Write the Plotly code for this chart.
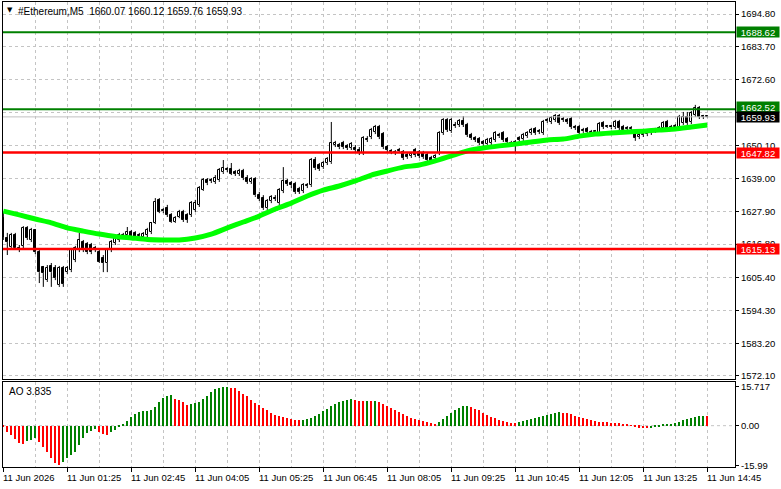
import plotly.graph_objects as go

# ---------------- data ----------------
bars = list(range(1, 178))  # 5-minute bar index from 11 Jun 00:00

opens = [
    1625.6, 1618.9, 1615.8, 1619.9, 1615.5, 1616.2, 1622.3, 1618.2, 1621.6, 1614.1,
    1609.0, 1604.6, 1609.4, 1608.7, 1602.9, 1608.7, 1607.3, 1608.0, 1611.4, 1614.8,
    1617.5, 1616.8, 1616.5, 1615.5, 1614.1, 1612.1, 1610.4, 1614.8, 1617.2, 1618.2,
    1619.5, 1619.9, 1620.9, 1620.6, 1619.9, 1619.2, 1619.9, 1620.9, 1624.0, 1631.8,
    1628.4, 1629.0, 1626.7, 1624.3, 1626.0, 1627.7, 1626.7, 1626.7, 1628.4, 1630.1,
    1635.1, 1638.5, 1638.2, 1637.9, 1638.5, 1641.2, 1642.3, 1642.3, 1641.2, 1640.6,
    1641.6, 1639.2, 1637.9, 1638.9, 1633.4, 1632.4, 1629.0, 1631.4, 1632.4, 1630.7,
    1634.8, 1638.2, 1637.5, 1637.2, 1635.5, 1634.8, 1636.5, 1636.8, 1645.3, 1643.6,
    1642.9, 1644.3, 1644.6, 1650.4, 1650.4, 1651.1, 1650.1, 1649.4, 1649.4, 1648.7,
    1647.7, 1652.1, 1653.1, 1654.8, 1656.5, 1654.1, 1649.7, 1648.4, 1648.0, 1648.7,
    1648.0, 1647.0, 1646.7, 1648.7, 1648.0, 1647.7, 1647.0, 1646.0, 1646.0, 1647.7,
    1654.5, 1658.9, 1655.1, 1657.2, 1657.2, 1658.5, 1657.2, 1653.8, 1652.8, 1652.4,
    1651.4, 1650.7, 1651.1, 1652.1, 1653.8, 1654.5, 1652.4, 1651.1, 1651.1, 1652.8,
    1652.4, 1653.4, 1654.5, 1655.8, 1654.8, 1654.5, 1658.9, 1658.2, 1658.9, 1660.2,
    1659.2, 1658.9, 1659.2, 1656.5, 1656.5, 1655.5, 1655.8, 1654.8, 1654.8, 1654.5,
    1657.9, 1656.5, 1656.5, 1656.5, 1658.2, 1656.5, 1656.2, 1655.8, 1654.1, 1653.1,
    1653.8, 1654.1, 1654.5, 1655.1, 1655.5, 1656.2, 1658.2, 1656.5, 1656.5, 1656.5,
    1657.9, 1659.9, 1658.2, 1660.6, 1662.9, 1660.2, 1660.07,
]
highs = [
    1627.7, 1620.6, 1620.6, 1620.6, 1616.5, 1622.9, 1622.9, 1622.3, 1621.9, 1614.8,
    1609.4, 1609.7, 1610.4, 1609.7, 1609.4, 1609.4, 1609.4, 1615.5, 1616.2, 1620.6,
    1618.2, 1617.5, 1617.2, 1616.2, 1614.8, 1613.1, 1615.5, 1618.2, 1619.5, 1620.6,
    1620.6, 1622.6, 1621.6, 1621.2, 1620.6, 1620.9, 1622.3, 1624.3, 1632.4, 1632.4,
    1629.0, 1630.1, 1627.3, 1626.3, 1628.4, 1628.4, 1627.3, 1631.4, 1631.8, 1636.5,
    1639.2, 1639.2, 1639.2, 1640.2, 1642.6, 1645.3, 1642.9, 1644.3, 1641.9, 1642.3,
    1642.3, 1640.2, 1639.5, 1639.5, 1634.5, 1633.4, 1632.1, 1633.4, 1633.4, 1635.8,
    1642.9, 1638.9, 1638.2, 1637.9, 1636.2, 1637.5, 1637.5, 1646.0, 1646.3, 1644.3,
    1645.0, 1646.3, 1658.2, 1651.8, 1651.1, 1651.8, 1650.7, 1651.4, 1650.4, 1649.7,
    1653.4, 1653.4, 1656.2, 1657.2, 1657.2, 1654.8, 1650.4, 1649.0, 1648.7, 1649.4,
    1648.7, 1647.7, 1648.0, 1649.4, 1648.7, 1648.4, 1647.7, 1646.7, 1647.3, 1655.1,
    1659.5, 1659.5, 1659.5, 1658.2, 1659.2, 1660.2, 1657.9, 1654.5, 1653.4, 1653.1,
    1652.1, 1652.8, 1653.1, 1655.1, 1654.5, 1655.1, 1653.1, 1651.8, 1652.1, 1653.4,
    1654.5, 1655.1, 1656.2, 1656.5, 1655.8, 1658.9, 1659.5, 1660.2, 1660.9, 1660.9,
    1659.9, 1659.5, 1659.9, 1657.2, 1657.2, 1656.2, 1656.5, 1655.5, 1655.5, 1658.2,
    1658.5, 1657.2, 1657.2, 1658.9, 1658.9, 1657.2, 1656.8, 1656.8, 1654.8, 1654.5,
    1654.8, 1655.5, 1655.8, 1656.2, 1656.8, 1658.5, 1658.9, 1657.2, 1657.5, 1660.6,
    1661.6, 1661.6, 1661.9, 1664.0, 1663.6, 1660.6, 1660.12,
]
lows = [
    1618.2, 1613.1, 1615.5, 1615.1, 1614.1, 1614.8, 1618.2, 1617.5, 1613.4, 1603.6,
    1602.3, 1604.0, 1602.3, 1604.6, 1602.3, 1602.3, 1606.7, 1607.3, 1610.7, 1614.1,
    1614.1, 1613.4, 1613.4, 1614.1, 1610.4, 1607.3, 1607.3, 1614.1, 1616.5, 1617.5,
    1618.9, 1619.2, 1618.9, 1618.2, 1618.9, 1618.2, 1619.2, 1620.2, 1623.6, 1627.3,
    1627.3, 1626.0, 1624.0, 1624.0, 1625.6, 1624.3, 1624.0, 1626.0, 1627.7, 1629.4,
    1634.8, 1636.8, 1637.5, 1637.2, 1637.9, 1640.6, 1641.2, 1640.2, 1639.9, 1639.9,
    1638.5, 1637.2, 1637.2, 1632.8, 1631.4, 1628.4, 1628.4, 1630.7, 1631.4, 1630.1,
    1634.1, 1636.5, 1635.8, 1633.8, 1633.8, 1634.1, 1635.8, 1636.2, 1641.9, 1641.6,
    1642.3, 1643.6, 1644.0, 1649.7, 1649.0, 1649.0, 1648.7, 1648.7, 1648.0, 1647.0,
    1647.0, 1651.4, 1652.4, 1654.1, 1652.4, 1649.0, 1648.0, 1647.3, 1647.0, 1647.7,
    1645.3, 1645.7, 1646.0, 1646.3, 1646.0, 1645.7, 1644.6, 1644.0, 1645.3, 1647.0,
    1653.8, 1654.8, 1654.5, 1656.2, 1656.5, 1656.5, 1653.1, 1652.1, 1651.4, 1650.4,
    1650.1, 1650.1, 1650.4, 1651.4, 1652.8, 1651.4, 1650.7, 1650.1, 1648.0, 1651.4,
    1651.8, 1652.8, 1653.8, 1653.8, 1654.1, 1653.8, 1657.9, 1657.5, 1658.2, 1657.2,
    1658.2, 1657.5, 1655.8, 1655.5, 1653.8, 1654.5, 1654.1, 1653.8, 1654.1, 1653.8,
    1655.8, 1656.2, 1655.8, 1655.8, 1655.5, 1654.8, 1655.1, 1655.1, 1651.8, 1652.4,
    1653.1, 1653.4, 1653.8, 1654.5, 1654.8, 1655.5, 1655.5, 1655.5, 1655.8, 1655.8,
    1657.2, 1657.2, 1657.5, 1659.9, 1659.2, 1659.2, 1659.76,
]
closes = [
    1618.9, 1617.5, 1619.9, 1615.5, 1614.8, 1622.3, 1618.9, 1621.6, 1614.1, 1607.3,
    1607.0, 1608.7, 1607.3, 1605.3, 1608.7, 1603.3, 1608.7, 1614.8, 1615.5, 1618.2,
    1614.8, 1614.1, 1614.1, 1614.8, 1610.7, 1610.4, 1614.8, 1617.5, 1618.9, 1619.9,
    1619.9, 1620.9, 1619.2, 1618.9, 1619.5, 1620.2, 1621.6, 1624.0, 1631.1, 1627.7,
    1628.0, 1626.7, 1624.3, 1625.6, 1627.7, 1625.0, 1625.0, 1630.7, 1630.7, 1635.8,
    1638.5, 1637.5, 1638.5, 1639.2, 1641.9, 1642.6, 1641.9, 1640.6, 1640.6, 1641.6,
    1639.2, 1637.9, 1638.9, 1633.4, 1632.1, 1629.0, 1631.4, 1632.8, 1632.1, 1635.1,
    1638.2, 1637.2, 1636.8, 1634.5, 1634.5, 1636.8, 1636.8, 1645.3, 1642.6, 1642.3,
    1644.3, 1645.7, 1651.1, 1651.1, 1649.7, 1649.7, 1649.4, 1650.7, 1648.7, 1647.7,
    1652.8, 1652.4, 1655.5, 1656.5, 1653.1, 1649.7, 1648.7, 1648.0, 1647.7, 1648.4,
    1646.0, 1646.3, 1647.3, 1647.0, 1646.7, 1646.3, 1645.3, 1644.6, 1646.7, 1654.5,
    1658.9, 1655.5, 1658.9, 1656.8, 1658.5, 1657.2, 1653.8, 1652.8, 1652.1, 1651.1,
    1650.7, 1652.1, 1652.4, 1654.5, 1653.4, 1652.1, 1651.4, 1650.7, 1651.4, 1652.1,
    1653.8, 1654.5, 1655.5, 1654.5, 1655.1, 1658.2, 1658.5, 1659.5, 1660.2, 1657.9,
    1658.9, 1658.2, 1656.5, 1656.2, 1654.5, 1655.1, 1654.8, 1654.5, 1655.1, 1657.5,
    1656.5, 1656.8, 1656.4, 1658.2, 1656.2, 1655.5, 1655.8, 1656.2, 1652.8, 1653.8,
    1654.1, 1654.8, 1655.1, 1655.5, 1656.2, 1657.9, 1656.2, 1656.2, 1656.8, 1659.9,
    1659.9, 1657.9, 1661.2, 1662.9, 1659.9, 1659.9, 1659.93,
]

# moving average (green line), read every 4 bars
ma_bars = list(range(1, 178, 4))
ma_vals = [
    1628.0, 1626.7, 1625.3, 1624.0, 1622.3, 1621.2, 1620.2, 1619.4, 1618.9, 1618.4,
    1618.2, 1618.2, 1618.9, 1620.2, 1622.3, 1624.3, 1626.3, 1628.7, 1630.7, 1633.1,
    1635.1, 1636.5, 1638.2, 1640.2, 1641.6, 1642.9, 1643.6, 1645.0, 1646.7, 1648.4,
    1649.4, 1650.1, 1650.7, 1651.4, 1652.1, 1652.4, 1653.4, 1654.1, 1654.5, 1654.8,
    1655.1, 1655.5, 1655.8, 1656.5, 1657.2,
]

# Awesome Oscillator values per bar
ao_vals = [
    -0.7, -2.4, -3.8, -5.4, -7.1, -7.4, -6.2, -5.8, -5.1, -6.5,
    -8.5, -10.8, -13.2, -15.2, -15.99, -14.5, -12.9, -11.8, -10.5, -7.8,
    -5.1, -3.1, -2.2, -1.5, -2.7, -3.5, -3.8, -2.7, -1.7, -0.4,
    0.5, 1.9, 3.6, 4.7, 5.4, 5.9, 6.0, 6.3, 7.7, 9.4,
    11.3, 12.1, 12.4, 10.8, 10.3, 9.4, 8.3, 8.6, 9.0, 9.7,
    10.8, 12.1, 13.7, 14.7, 15.1, 15.5, 15.717, 15.3, 15.1, 14.0,
    12.6, 12.1, 10.3, 9.0, 8.3, 7.3, 6.3, 5.3, 4.4, 3.8,
    3.5, 3.2, 2.8, 2.4, 2.1, 2.3, 2.5, 3.2, 4.0, 4.8,
    5.8, 6.7, 7.9, 8.8, 9.5, 10.0, 10.4, 10.6, 10.5, 10.1,
    9.9, 10.1, 9.8, 9.9, 9.5, 8.7, 7.9, 7.1, 6.3, 5.5,
    4.6, 3.8, 3.2, 2.6, 2.1, 1.7, 1.3, 0.9, 0.8, 1.3,
    2.5, 3.8, 5.0, 6.2, 7.1, 7.8, 7.9, 7.6, 6.9, 6.2,
    5.3, 4.4, 3.6, 2.9, 2.3, 1.8, 1.4, 1.2, 1.1, 1.3,
    1.7, 2.1, 2.6, 3.0, 3.5, 4.0, 4.5, 4.9, 5.2, 5.4,
    5.2, 5.0, 4.6, 4.1, 3.6, 3.0, 2.5, 2.1, 1.8, 1.6,
    1.5, 1.3, 1.1, 1.0, 0.9, 0.7, 0.4, 0.1, -0.4, -0.8,
    -1.0, -1.1, -0.9, -0.5, -0.2, 0.3, 0.6, 0.8, 1.1, 1.6,
    2.2, 2.6, 3.0, 3.5, 3.9, 3.95, 3.835,
]

# horizontal levels
green_levels = [1688.62, 1662.52]
red_levels = [1647.82, 1615.13]
last_price = 1659.93

# axis labels
price_ticks = [1694.80, 1683.70, 1672.60, 1661.50, 1650.10, 1639.00,
               1627.90, 1616.80, 1605.40, 1594.30, 1583.20, 1572.10]
hidden_price_ticks = [1661.50]  # fully covered by the price tags in the reference
ao_ticks = [15.717, 0.0, -15.99]
ao_tick_text = ["15.717", "0.00", "-15.99"]
time_label_bars = list(range(1, 178, 16))
time_labels = ["11 Jun 2026", "11 Jun 01:25", "11 Jun 02:45", "11 Jun 04:05",
               "11 Jun 05:25", "11 Jun 06:45", "11 Jun 08:05", "11 Jun 09:25",
               "11 Jun 10:45", "11 Jun 12:05", "11 Jun 13:25", "11 Jun 14:45"]
grid_mid_bars = list(range(9, 178, 16))
title_text = "#Ethereum,M5  1660.07 1660.12 1659.76 1659.93"
ao_label = "AO 3.835"

# ---------------- figure ----------------
FONT = "Liberation Sans"
GRID = "#c4c4c4"
GDASH = "3px,3px"

fig = go.Figure()

# wicks (split around bodies)
wx, wy = [], []
for b, o, h, l, c in zip(bars, opens, highs, lows, closes):
    top, bot = max(o, c), min(o, c)
    if h > top:
        wx += [b, b, None]
        wy += [top, h, None]
    if l < bot:
        wx += [b, b, None]
        wy += [bot, l, None]
fig.add_trace(go.Scatter(x=wx, y=wy, mode="lines", line=dict(color="black", width=1),
                         xaxis="x", yaxis="y", hoverinfo="skip"))

# bodies
for up in (True, False):
    xs, base, hgt = [], [], []
    for b, o, c in zip(bars, opens, closes):
        if (c >= o) == up:
            xs.append(b)
            base.append(min(o, c))
            hgt.append(max(abs(c - o), 0.3))
    fig.add_trace(go.Bar(x=xs, y=hgt, base=base, width=0.55,
                         marker=dict(color="white" if up else "black",
                                     line=dict(color="black", width=1)),
                         xaxis="x", yaxis="y", hoverinfo="skip"))

# moving average
fig.add_trace(go.Scatter(x=ma_bars, y=ma_vals, mode="lines",
                         line=dict(color="#00ff00", width=5, shape="spline", smoothing=0.6),
                         xaxis="x", yaxis="y", hoverinfo="skip"))

# AO histogram
ao_colors = []
for i, v in enumerate(ao_vals):
    prev = ao_vals[i - 1] if i > 0 else v
    ao_colors.append("#008000" if v > prev else "#ff0000")
fig.add_trace(go.Bar(x=bars, y=ao_vals, width=0.3,
                     marker=dict(color=ao_colors, line=dict(width=0)),
                     xaxis="x2", yaxis="y2", hoverinfo="skip"))

# level lines
shapes = []
shapes.append(dict(type="line", xref="paper", x0=0, x1=1, yref="y", y0=last_price, y1=last_price,
                   line=dict(color="#c0c0c0", width=1), layer="above"))
for lv in green_levels:
    shapes.append(dict(type="line", xref="paper", x0=0, x1=1, yref="y", y0=lv, y1=lv,
                       line=dict(color="#008000", width=2), layer="above"))
for lv in red_levels:
    shapes.append(dict(type="line", xref="paper", x0=0, x1=1, yref="y", y0=lv, y1=lv,
                       line=dict(color="#ff0000", width=2.5), layer="above"))
shapes.append(dict(type="line", xref="paper", x0=0, x1=1, yref="y2", y0=0, y1=0,
                   line=dict(color=GRID, width=1, dash=GDASH), layer="below"))

annotations = []
# price tags on the right axis
tags = [(green_levels[0], "#008000", 0), (green_levels[1], "#008000", 2),
        (last_price, "#000000", 0), (red_levels[0], "#ff0000", 0), (red_levels[1], "#ff0000", 0)]
for val, col, ys in tags:
    annotations.append(dict(x=1, xref="paper", y=val, yref="y", xanchor="left", yanchor="middle",
                            xshift=1, yshift=ys, text=f"{val:.2f}", showarrow=False, bgcolor=col,
                            font=dict(family=FONT, size=9.5, color="white"),
                            borderpad=0, width=42, height=10, align="center", valign="middle"))
# time labels
for b, t in zip(time_label_bars, time_labels):
    annotations.append(dict(x=b, xref="x2", y=0, yref="paper", xanchor="left", yanchor="top",
                            xshift=-2, yshift=-3, text=t, showarrow=False,
                            font=dict(family=FONT, size=9.5, color="black")))
# title
annotations.append(dict(x=0, xref="paper", y=1, yref="paper", xanchor="left", yanchor="top",
                        xshift=2, yshift=-2, text="▼", showarrow=False,
                        font=dict(family="DejaVu Sans", size=7, color="black")))
annotations.append(dict(x=0, xref="paper", y=1, yref="paper", xanchor="left", yanchor="top",
                        xshift=13, yshift=-2, text=title_text, showarrow=False,
                        font=dict(family=FONT, size=10, color="black")))
annotations.append(dict(x=0, xref="paper", y=1, yref="y2 domain", xanchor="left", yanchor="top",
                        xshift=4, yshift=-2, text=ao_label, showarrow=False,
                        font=dict(family=FONT, size=10, color="black")))

xcommon = dict(range=[0.92, 183.92], tickmode="array", tickvals=time_label_bars,
               showticklabels=False, showgrid=True, gridcolor=GRID, griddash=GDASH, gridwidth=1,
               minor=dict(tickmode="array", tickvals=grid_mid_bars, showgrid=True,
                          gridcolor=GRID, griddash=GDASH, gridwidth=1, ticks=""),
               showline=True, mirror=True, linecolor="black", linewidth=1, zeroline=False,
               fixedrange=True)

fig.update_layout(
    width=781, height=489,
    margin=dict(l=3, r=46, t=2, b=22),
    paper_bgcolor="white", plot_bgcolor="white",
    showlegend=False, barmode="overlay", bargap=0,
    font=dict(family=FONT, size=9.5, color="black"),
    shapes=shapes, annotations=annotations,
    xaxis=dict(domain=[0, 1], anchor="y", ticks="", **xcommon),
    xaxis2=dict(domain=[0, 1], anchor="y2", matches="x", ticks="outside", ticklen=4,
                tickcolor="black", **xcommon),
    yaxis=dict(domain=[0.1892, 1], anchor="x", side="right", range=[1571.07, 1698.87],
               tickmode="array", tickvals=price_ticks,
               ticktext=["" if v in hidden_price_ticks else f"{v:.2f}" for v in price_ticks],
               ticks="outside", ticklen=3, tickcolor="black",
               showgrid=True, gridcolor=GRID, griddash=GDASH, gridwidth=1,
               showline=True, mirror=True, linecolor="black", linewidth=1, zeroline=False,
               tickfont=dict(family=FONT, size=9.5, color="black")),
    yaxis2=dict(domain=[0, 0.1828], anchor="x2", side="right", range=[-16.65, 17.6],
                tickmode="array", tickvals=ao_ticks, ticktext=ao_tick_text,
                ticks="outside", ticklen=3, tickcolor="black", showgrid=False,
                showline=True, mirror=True, linecolor="black", linewidth=1, zeroline=False,
                tickfont=dict(family=FONT, size=9.5, color="black")),
)

fig.write_html("out.html")
